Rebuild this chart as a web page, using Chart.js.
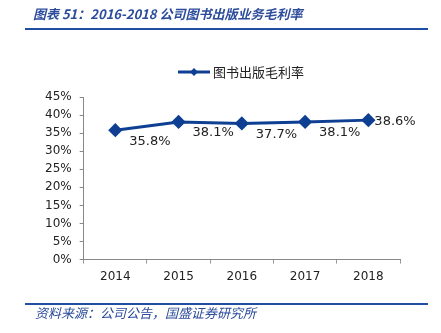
<!DOCTYPE html>
<html>
<head>
<meta charset="utf-8">
<script src="https://cdn.jsdelivr.net/npm/chart.js@4"></script>
<style>
  body { margin: 0; background: #fff; }
  #wrap { position: relative; width: 441px; height: 333px; }
  #myChart { position: absolute; left: 0; top: 0; }
  .title { position: absolute; left: 33px; top: 4px; font: italic bold 13px "Noto Sans CJK SC", sans-serif; color: #2b4b9b; }
  .rule { position: absolute; left: 25px; width: 403px; height: 2px; background: #1f4ea3; }
  .src { position: absolute; left: 35px; top: 303px; font: italic 13px "Noto Sans CJK SC", sans-serif; color: #2b4b9b; }
</style>
</head>
<body>
<div id="wrap">
  <canvas id="myChart" width="441" height="333"></canvas>
  <div class="title">图表 51：2016-2018 公司图书出版业务毛利率</div>
  <div class="rule" style="top:28px"></div>
  <div class="rule" style="top:303px"></div>
  <div class="src">资料来源：公司公告，国盛证券研究所</div>
</div>
<script>
let anni = ['2014', '2015', '2016', '2017', '2018'];
let margine = [35.8, 38.1, 37.7, 38.1, 38.6];
let nomeSerie = '图书出版毛利率';
let coloreLinea = '#0e3f93';

// etichette dei valori + legenda disegnata a mano
let etichette = {
  id: 'etichette',
  afterDatasetsDraw(chart) {
    let c = chart.ctx;
    let meta = chart.getDatasetMeta(0);
    c.save();
    c.font = '13px "DejaVu Sans", Verdana, sans-serif';
    c.fillStyle = '#222';
    c.textBaseline = 'middle';
    c.textAlign = 'left';
    meta.data.forEach(function (p, i) {
      let txt = margine[i].toFixed(1) + '%';
      if (i == margine.length - 1) {
        c.fillText(txt, p.x + 6, p.y + 1);
      } else {
        c.fillText(txt, p.x + 14, p.y + 11);
      }
    });

    // legenda
    let lx = 178, ly = 72;
    c.strokeStyle = coloreLinea;
    c.lineWidth = 3;
    c.beginPath();
    c.moveTo(lx, ly);
    c.lineTo(lx + 32, ly);
    c.stroke();
    c.fillStyle = coloreLinea;
    c.beginPath();
    c.moveTo(lx + 16, ly - 4);
    c.lineTo(lx + 20, ly);
    c.lineTo(lx + 16, ly + 4);
    c.lineTo(lx + 12, ly);
    c.closePath();
    c.fill();
    c.fillStyle = '#222';
    c.font = '13px "Noto Sans CJK SC", sans-serif';
    c.fillText(nomeSerie, lx + 35, ly);
    c.restore();
  }
};

var ctx = document.getElementById('myChart');
var myChart = new Chart(ctx, {
  type: 'line',
  data: {
    labels: anni,
    datasets: [{
      label: nomeSerie,
      data: margine,
      borderColor: coloreLinea,
      backgroundColor: coloreLinea,
      borderWidth: 3,
      pointStyle: 'rectRot',
      pointRadius: 5,
      tension: 0
    }]
  },
  options: {
    responsive: false,
    animation: false,
    layout: { padding: { top: 97, left: 37, right: 41, bottom: 43 } },
    plugins: {
      legend: { display: false },
      tooltip: { enabled: false }
    },
    scales: {
      x: {
        offset: true,
        grid: { offset: true, drawOnChartArea: false, color: '#999', tickLength: 4 },
        border: { color: '#888' },
        ticks: { color: '#222', font: { family: 'DejaVu Sans', size: 12 }, padding: 6 }
      },
      y: {
        min: 0,
        max: 45,
        grid: { drawOnChartArea: false, color: '#888', tickLength: 4 },
        border: { color: '#888' },
        ticks: {
          stepSize: 5,
          autoSkip: false,
          color: '#222',
          font: { family: 'DejaVu Sans', size: 12 },
          padding: 8,
          callback: function (v) { return v + '%'; }
        }
      }
    }
  },
  plugins: [etichette]
});
</script>
</body>
</html>
